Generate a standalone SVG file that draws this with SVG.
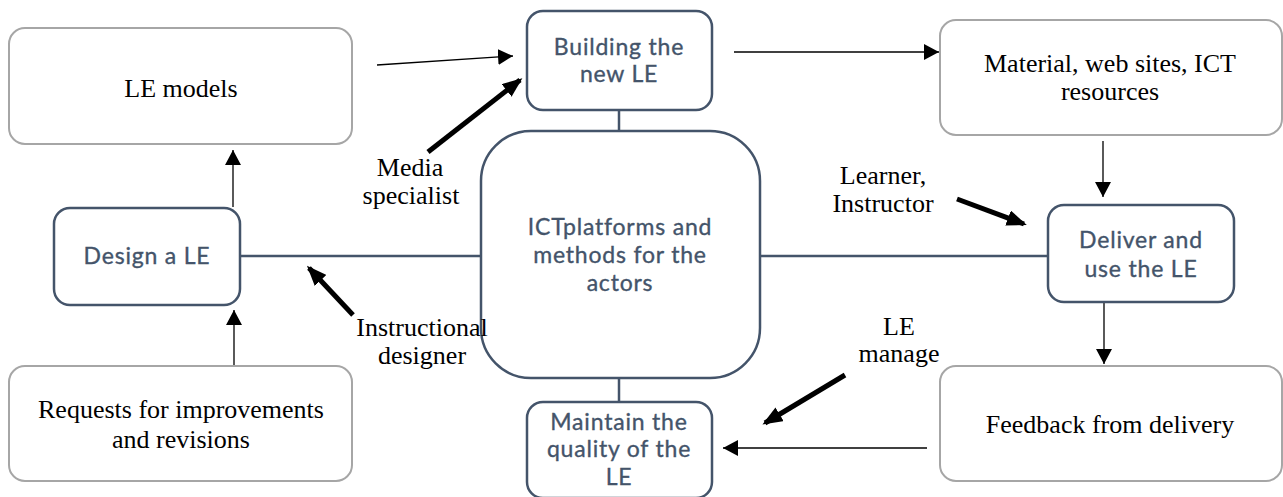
<svg xmlns="http://www.w3.org/2000/svg" width="1283" height="497" viewBox="0 0 1283 497">
  <style>
    .outer { fill: #ffffff; stroke: #a6a6a6; stroke-width: 2; }
    .core { fill: #ffffff; stroke: #44546a; stroke-width: 2.5; }
    .serif { font-family: "Liberation Serif", "Times New Roman", serif; font-size: 26px; fill: #000000; text-anchor: middle; }
    .sans { font-family: Lato, "Open Sans", sans-serif; font-size: 23px; letter-spacing: 0.8px; fill: #44546a; stroke: #44546a; stroke-width: 0.35; text-anchor: middle; }
    .thin { stroke: #000000; stroke-width: 1.3; fill: none; }
    .thick { stroke: #000000; stroke-width: 5; fill: none; }
    .link { stroke: #44546a; stroke-width: 2.5; fill: none; }
  </style>
  <defs>
    <marker id="tri" viewBox="0 0 15 16" refX="15" refY="8" markerWidth="15" markerHeight="16" markerUnits="userSpaceOnUse" orient="auto">
      <path d="M0,0 L15,8 L0,16 z" fill="#000000"/>
    </marker>
    <marker id="triL" viewBox="0 0 20 16" refX="17" refY="8" markerWidth="20" markerHeight="16" markerUnits="userSpaceOnUse" orient="auto">
      <path d="M0,0 L20,8 L0,16 z" fill="#000000"/>
    </marker>
  </defs>
  <rect width="1283" height="497" fill="#ffffff"/>

  <g id="connectors">
    <!-- structural links between the central hub and the stage boxes -->
    <line class="link" x1="619" y1="110" x2="619" y2="131"/>
    <line class="link" x1="619" y1="378" x2="619" y2="402"/>
    <line class="link" x1="240" y1="256" x2="481" y2="256"/>
    <line class="link" x1="760" y1="256" x2="1048" y2="256"/>
    <!-- flow arrows -->
    <line class="thin" x1="377" y1="65" x2="513" y2="56" marker-end="url(#tri)"/>
    <line class="thin" x1="734" y1="52" x2="939" y2="52" marker-end="url(#tri)"/>
    <line class="thin" x1="233" y1="207" x2="233" y2="150" marker-end="url(#tri)"/>
    <line class="thin" x1="234" y1="366" x2="234" y2="310" marker-end="url(#tri)"/>
    <line class="thin" x1="1103" y1="141" x2="1103" y2="197" marker-end="url(#tri)"/>
    <line class="thin" x1="1104" y1="303" x2="1104" y2="364" marker-end="url(#tri)"/>
    <line class="thin" x1="927" y1="448" x2="723" y2="448" marker-end="url(#tri)"/>
    <!-- actor arrows -->
    <line class="thick" x1="428" y1="152" x2="520" y2="80" marker-end="url(#triL)"/>
    <line class="thick" x1="957" y1="199" x2="1024" y2="224" marker-end="url(#triL)"/>
    <line class="thick" x1="353" y1="315" x2="309" y2="268" marker-end="url(#triL)"/>
    <line class="thick" x1="845" y1="375" x2="765" y2="423" marker-end="url(#triL)"/>
  </g>

  <g id="le-models">
    <rect class="outer" x="9" y="28" width="343" height="116" rx="16"/>
    <text class="serif" x="181" y="97">LE models</text>
  </g>

  <g id="building">
    <rect class="core" x="527" y="11" width="185" height="99" rx="16"/>
    <text class="sans" x="619" y="55">Building the</text>
    <text class="sans" x="619" y="82">new LE</text>
  </g>

  <g id="material">
    <rect class="outer" x="940" y="20" width="342" height="115" rx="16"/>
    <text class="serif" x="1110" y="72">Material, web sites, ICT</text>
    <text class="serif" x="1110" y="100">resources</text>
  </g>

  <g id="ict-platforms">
    <rect class="core" x="481" y="131" width="279" height="247" rx="50"/>
    <text class="sans" x="620" y="235">ICTplatforms and</text>
    <text class="sans" x="620" y="263">methods for the</text>
    <text class="sans" x="620" y="291">actors</text>
  </g>

  <g id="design">
    <rect class="core" x="54" y="208" width="186" height="97" rx="16"/>
    <text class="sans" x="147" y="264">Design a LE</text>
  </g>

  <g id="deliver">
    <rect class="core" x="1048" y="205" width="186" height="97" rx="16"/>
    <text class="sans" x="1141" y="248">Deliver and</text>
    <text class="sans" x="1141" y="277">use the LE</text>
  </g>

  <g id="requests">
    <rect class="outer" x="9" y="366" width="343" height="115" rx="16"/>
    <text class="serif" x="181" y="418">Requests for improvements</text>
    <text class="serif" x="181" y="448">and revisions</text>
  </g>

  <g id="feedback">
    <rect class="outer" x="940" y="366" width="342" height="115" rx="16"/>
    <text class="serif" x="1110" y="433">Feedback from delivery</text>
  </g>

  <g id="maintain">
    <rect class="core" x="527" y="402" width="185" height="96" rx="16"/>
    <text class="sans" x="619" y="430">Maintain the</text>
    <text class="sans" x="619" y="457">quality of the</text>
    <text class="sans" x="619" y="485">LE</text>
  </g>

  <g id="actor-labels">
    <text class="serif" x="410" y="176">Media</text>
    <text class="serif" x="411" y="204">specialist</text>
    <text class="serif" x="883" y="184">Learner,</text>
    <text class="serif" x="883" y="212">Instructor</text>
    <text class="serif" x="422" y="336">Instructional</text>
    <text class="serif" x="422" y="364">designer</text>
    <text class="serif" x="899" y="335">LE</text>
    <text class="serif" x="899" y="362">manage</text>
  </g>
</svg>
